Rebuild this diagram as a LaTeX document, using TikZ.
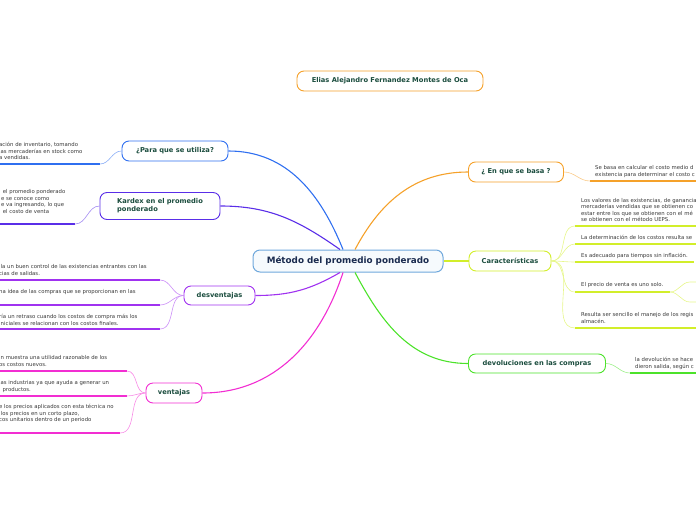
\documentclass[tikz,border=0pt]{standalone}
\usepackage{fontspec}
\setmainfont{DejaVu Sans}

\definecolor{mmblue}{HTML}{2F6FF0}
\definecolor{mmindigo}{HTML}{5A2EE8}
\definecolor{mmpurple}{HTML}{A032F0}
\definecolor{mmmagenta}{HTML}{F22ED2}
\definecolor{mmorange}{HTML}{F5A12A}
\definecolor{mmyellow}{HTML}{D2EE2A}
\definecolor{mmgreen}{HTML}{4CE22A}
\definecolor{mmroot}{HTML}{6FA8DC}
\definecolor{topictext}{HTML}{1B4D3E}
\definecolor{roottext}{HTML}{1A2B4F}
\definecolor{leaftext}{HTML}{383838}

\tikzset{
    mm root/.style={
      draw=mmroot, fill=mmroot!6,
      line width=1pt, rounded corners=7pt,
      font=\bfseries\fontsize{8.8}{10.5}\selectfont, text=roottext,
      minimum width=190pt, minimum height=22pt, inner sep=0pt
    },
    mm topic/.style={
      draw=#1, fill=white,
      line width=0.9pt, rounded corners=7pt,
      font=\bfseries\fontsize{6.7}{8.2}\selectfont, text=topictext,
      minimum height=20pt, inner sep=0pt
    },
    mm leaf/.style={
      font=\fontsize{5.35}{6.5}\selectfont, text=leaftext,
      align=left, anchor=north west, inner sep=0pt
    },
    mm bar/.style={draw=#1, line width=1.6pt},
    mm link/.style={draw=#1!55, line width=0.6pt},
    mm edge/.style={draw=#1, line width=1.1pt}
  }

\begin{document}
\begin{tikzpicture}[x=1pt,y=-1pt]
      \useasboundingbox (0,0) rectangle (696,520);
      \clip (0,0) rectangle (696,520);

      % 中心
      \node[mm root] (root) at (348,261) {Método del promedio ponderado};
      \node[mm topic=mmorange, minimum width=186pt] (author) at (390,81) {Elias Alejandro Fernandez Montes de Oca};

      % 枝
      \node[mm topic=mmblue, minimum width=106pt] (para) at (175,151) {¿Para que se utiliza?};
      \node[mm topic=mmindigo, minimum width=120pt, minimum height=27pt, align=left] (kardex) at (160,206) {Kardex en el promedio\\ponderado};
      \node[mm topic=mmpurple, minimum width=71pt, minimum height=19pt] (desv) at (219.5,295.5) {desventajas};
      \node[mm topic=mmmagenta, minimum width=56pt] (vent) at (174,393) {ventajas};
      \node[mm topic=mmorange, minimum width=95pt] (basa) at (516,172) {¿ En que se basa ?};
      \node[mm topic=mmyellow, minimum width=82pt] (carac) at (510,261) {Características};
      \node[mm topic=mmgreen, minimum width=137pt, minimum height=19pt] (devol) at (537,363.5) {devoluciones en las compras};

      \draw[mm edge=mmblue] ([xshift=-5pt]root.north) to[out=112,in=0] (para.east);
      \draw[mm edge=mmindigo] ([xshift=-8pt]root.north) to[out=145,in=0] (kardex.east);
      \draw[mm edge=mmorange] ([xshift=7pt]root.north) to[out=62,in=180] (basa.west);
      \draw[mm edge=mmyellow] (root.east) -- (carac.west);
      \draw[mm edge=mmpurple] ([xshift=-8pt]root.south) to[out=-150,in=0] (desv.east);
      \draw[mm edge=mmmagenta] ([xshift=-5pt]root.south) to[out=-108,in=0] (vent.east);
      \draw[mm edge=mmgreen] ([xshift=7pt]root.south) to[out=-62,in=180] (devol.west);

      % hojas: ¿Para que se utiliza?
      \node[mm leaf] (paratxt) at (-1,142.5) {ación de inventario, tomando\\las mercaderías en stock como\\a vendidas.};
      \coordinate (paraA) at (-5,164);
      \coordinate (paraB) at (100,164);
      \draw[mm bar=mmblue] (paraA) -- (paraB);
      \draw[mm link=mmblue] (paraB) to[out=0,in=180] (para.west);

      % hojas: Kardex
      \node[mm leaf] (kartxt) at (1,189.5) {\ el promedio ponderado\\e se conoce como\\e va ingresando, lo que\\\ el costo de venta};
      \coordinate (karA) at (-5,224);
      \coordinate (karB) at (75,224);
      \draw[mm bar=mmindigo] (karA) -- (karB);
      \draw[mm link=mmindigo] (karB) to[out=0,in=180] (kardex.west);

      % hojas: desventajas
      \node[mm leaf] (desvtxtA) at (-1,264.5) {lla un buen control de las existencias entrantes con las\\cias de salidas.};
      \node[mm leaf] (desvtxtB) at (-1,289.5) {na idea de las compras que se proporcionan en las};
      \node[mm leaf] (desvtxtC) at (-1,314.5) {ría un retraso cuando los costos de compra más los\\iniciales se relacionan con los costos finales.};
      \coordinate (desvA1) at (-5,280);
      \coordinate (desvA2) at (160,280);
      \coordinate (desvB1) at (-5,305);
      \coordinate (desvB2) at (160,305);
      \coordinate (desvC1) at (-5,329);
      \coordinate (desvC2) at (160,329);
      \draw[mm bar=mmpurple] (desvA1) -- (desvA2);
      \draw[mm bar=mmpurple] (desvB1) -- (desvB2);
      \draw[mm bar=mmpurple] (desvC1) -- (desvC2);
      \draw[mm link=mmpurple] (desvA2) to[out=0,in=180] (desv.west);
      \draw[mm link=mmpurple] (desvB2) to[out=0,in=180] (desv.west);
      \draw[mm link=mmpurple] (desvC2) to[out=0,in=180] (desv.west);

      % hojas: ventajas
      \node[mm leaf] (venttxtA) at (-1,355.5) {in muestra una utilidad razonable de los\\os costos nuevos.};
      \node[mm leaf] (venttxtB) at (-1,380.5) {las industrias ya que ayuda a generar un\\\ \ productos.};
      \node[mm leaf] (venttxtC) at (-1,404.5) {e los precios aplicados con esta técnica no\\\ los precios en un corto plazo,\\cos unitarios dentro de un periodo};
      \coordinate (ventA1) at (-5,371);
      \coordinate (ventA2) at (127,371);
      \coordinate (ventB1) at (-5,396);
      \coordinate (ventB2) at (127,396);
      \coordinate (ventC1) at (-5,433);
      \coordinate (ventC2) at (120,433);
      \draw[mm bar=mmmagenta] (ventA1) -- (ventA2);
      \draw[mm bar=mmmagenta] (ventB1) -- (ventB2);
      \draw[mm bar=mmmagenta] (ventC1) -- (ventC2);
      \draw[mm link=mmmagenta] (ventA2) to[out=0,in=180] (vent.west);
      \draw[mm link=mmmagenta] (ventB2) to[out=0,in=180] (vent.west);
      \draw[mm link=mmmagenta] (ventC2) to[out=0,in=180] (vent.west);

      % hojas: ¿ En que se basa ?
      \node[mm leaf] (basatxt) at (595,165.5) {Se basa en calcular el costo medio d\\existencia para determinar el costo c};
      \coordinate (basaA) at (590,181);
      \coordinate (basaB) at (700,181);
      \draw[mm bar=mmorange] (basaA) -- (basaB);
      \draw[mm link=mmorange] (basa.east) to[out=0,in=180] (basaA);

      % hojas: Características
      \node[mm leaf] (caractxtA) at (581,198) {Los valores de las existencias, de ganancia\\mercaderías vendidas que se obtienen co\\estar entre los que se obtienen con el mé\\se obtienen con el método UEPS.};
      \node[mm leaf] (caractxtB) at (581,235.5) {La determinación de los costos resulta se};
      \node[mm leaf] (caractxtC) at (581,253.5) {Es adecuado para tiempos sin inflación.};
      \node[mm leaf] (caractxtD) at (581,282.5) {El precio de venta es uno solo.};
      \node[mm leaf] (caractxtE) at (581,312.5) {Resulta ser sencillo el manejo de los regis\\almacén.};
      \coordinate (caracA1) at (575,226);
      \coordinate (caracA2) at (700,226);
      \coordinate (caracB1) at (575,244);
      \coordinate (caracB2) at (700,244);
      \coordinate (caracC1) at (575,262);
      \coordinate (caracC2) at (694,262);
      \coordinate (caracD1) at (575,292);
      \coordinate (caracD2) at (670,292);
      \coordinate (caracE1) at (575,328);
      \coordinate (caracE2) at (700,328);
      \coordinate (caracDup) at (700,282);
      \coordinate (caracDdown) at (700,302);
      \draw[mm bar=mmyellow] (caracA1) -- (caracA2);
      \draw[mm bar=mmyellow] (caracB1) -- (caracB2);
      \draw[mm bar=mmyellow] (caracC1) -- (caracC2);
      \draw[mm bar=mmyellow] (caracD1) -- (caracD2);
      \draw[mm bar=mmyellow] (caracE1) -- (caracE2);
      \draw[mm link=mmyellow] (carac.east) to[out=0,in=180] (caracA1);
      \draw[mm link=mmyellow] (carac.east) to[out=0,in=180] (caracB1);
      \draw[mm link=mmyellow] (carac.east) to[out=0,in=180] (caracC1);
      \draw[mm link=mmyellow] (carac.east) to[out=0,in=180] (caracD1);
      \draw[mm link=mmyellow] (carac.east) to[out=0,in=180] (caracE1);
      \draw[mm link=mmyellow] (caracD2) to[out=0,in=180] ([xshift=-10pt]caracDup) -- (caracDup);
      \draw[mm link=mmyellow] (caracD2) to[out=0,in=180] ([xshift=-10pt]caracDdown) -- (caracDdown);

      % hojas: devoluciones en las compras
      \node[mm leaf] (devoltxt) at (635,357.5) {la devolución se hace\\dieron salida, según c};
      \coordinate (devolA) at (630,373);
      \coordinate (devolB) at (700,373);
      \draw[mm bar=mmgreen] (devolA) -- (devolB);
      \draw[mm link=mmgreen] (devol.east) to[out=0,in=180] (devolA);
    \end{tikzpicture}
\end{document}
